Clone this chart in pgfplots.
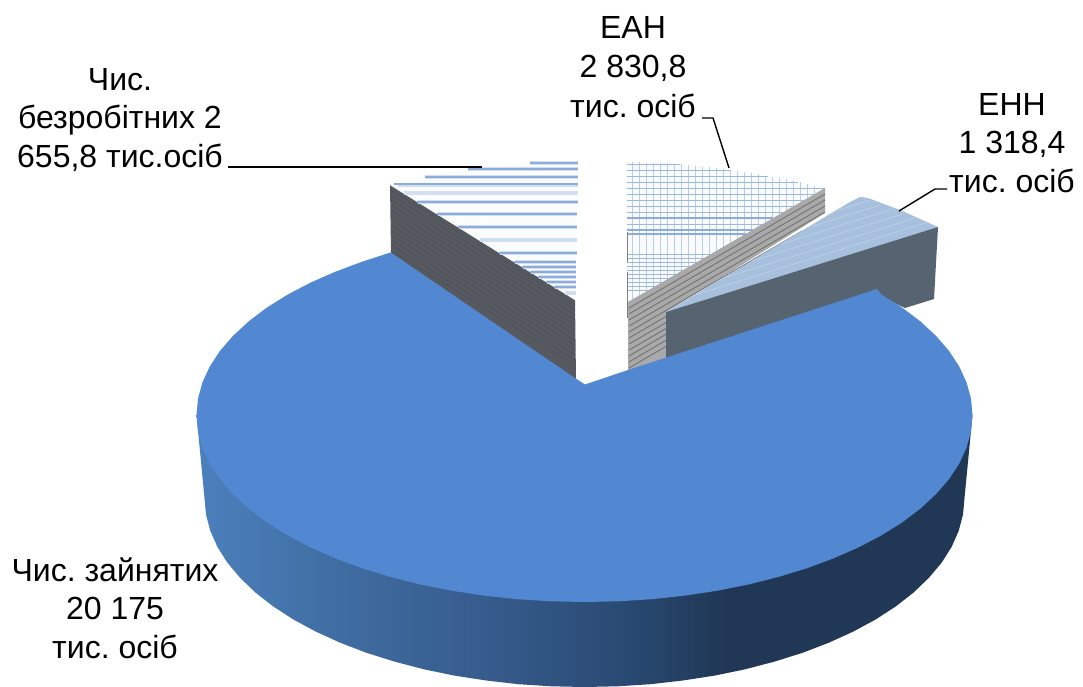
\documentclass[border=0pt]{standalone}
\usepackage{fontspec}
\setmainfont{Liberation Sans}
\usepackage{pgfplots}
\pgfplotsset{compat=1.18}

\definecolor{mainTop}{HTML}{5288D2}
\definecolor{slateWall}{HTML}{566471}
\definecolor{darkWall}{HTML}{565A60}
\definecolor{darkWallLine}{HTML}{4C5056}
\definecolor{greyWall}{HTML}{A9A9A9}
\definecolor{greyWallLine}{HTML}{727272}
\definecolor{hatchPale}{HTML}{D3DFF0}
\definecolor{hatchMid}{HTML}{8CACD9}
\definecolor{hatchGrid}{HTML}{BACEE7}
\definecolor{ennTop}{HTML}{A7C0DE}
\definecolor{ennLine}{HTML}{BDD0E6}
\definecolor{rimA}{HTML}{4C80BD}
\definecolor{rimB}{HTML}{406EA3}
\definecolor{rimC}{HTML}{355A8A}
\definecolor{rimD}{HTML}{294A73}
\definecolor{rimE}{HTML}{203856}

% Rim of the large sector: lighter at the left, dark from about two thirds across
\pgfdeclarehorizontalshading{rimshade}{100bp}{
  color(0bp)=(rimA);
  color(25bp)=(rimA);
  color(33.5bp)=(rimB);
  color(44.5bp)=(rimC);
  color(52.5bp)=(rimD);
  color(59bp)=(rimE);
  color(75bp)=(rimE);
  color(100bp)=(rimE)}

\tikzset{lab/.style={font=\fontsize{32}{38.5}\selectfont\frenchspacing, align=center, text=black, inner sep=0pt}}

\begin{document}
\begin{tikzpicture}
\begin{axis}[
  hide axis, scale only axis, width=1083pt, height=687pt,
  xmin=0, xmax=1083, ymin=0, ymax=687, y dir=reverse,
  clip=false, unbounded coords=jump,
  every axis plot/.append style={line join=round},
]
% canvas
\addplot[fill=white, draw=none] coordinates {(0,0)(1083,0)(1083,687)(0,687)} --cycle;

% --- sector: unemployed ---
\addplot[fill=darkWall, draw=none] coordinates {(390,185)(575,300)(576,380)(391,253)} --cycle;
\addplot[darkWallLine, line width=0.5pt] coordinates {
(391,190)(575,305)(nan,nan)(391,195)(575,310)(nan,nan)(391,200)(575,315)(nan,nan)
(391,205)(575,320)(nan,nan)(391,210)(575,325)(nan,nan)(391,215)(575,330)(nan,nan)
(391,220)(575,335)(nan,nan)(391,225)(575,340)(nan,nan)(391,230)(575,345)(nan,nan)
(391,235)(575,350)(nan,nan)(391,240)(575,355)(nan,nan)(391,245)(575,360)(nan,nan)
(391,250)(575,365)};
\addplot[fill=white!90!hatchPale, draw=none] coordinates {(390,185)(425,177)(462,170)(518,164)(578,161)(575,300)} --cycle;
\addplot[hatchPale, line width=4pt] coordinates {
(530,163.5)(578,163.5)(nan,nan)(468,169.5)(578,169.5)(nan,nan)(425,177)(578,177)(nan,nan)
(398,184.5)(578,184.5)(nan,nan)(404,193)(577.5,193)(nan,nan)(418,202)(577.5,202)(nan,nan)
(437.7,214)(577,214)(nan,nan)(458.6,227)(577,227)(nan,nan)(479.5,240)(576.5,240)(nan,nan)(500.4,253)(576.5,253)(nan,nan)
(514.9,262)(576,262)(nan,nan)(522.9,267)(576,267)(nan,nan)(531,272)(576,272)(nan,nan)
(539,277)(576,277)(nan,nan)(547,282)(575.5,282)(nan,nan)(555,287)(575.5,287)(nan,nan)(564.8,293)(575.5,293)};
\addplot[hatchMid, line width=1.1pt] coordinates {
(530,163)(578,163)(nan,nan)(468,169)(578,169)(nan,nan)(425,177)(578,177)(nan,nan)
(394,184)(578,184)(nan,nan)(417.4,202)(577.5,202)(nan,nan)
(436.7,214)(577,214)(nan,nan)(457.6,227)(577,227)(nan,nan)(499.4,253)(576.5,253)(nan,nan)
(513.9,262)(576,262)(nan,nan)(521.9,267)(576,267)(nan,nan)(530,272)(576,272)(nan,nan)
(538,277)(576,277)(nan,nan)(546,282)(575.5,282)(nan,nan)(554,287)(575.5,287)};

% --- sector: EAN ---
\addplot[fill=white!88!hatchPale, draw=none] coordinates {(626,162)(680,164)(730,170)(780,178)(825,188)(629,302)(627,302)} --cycle;
\addplot[hatchGrid, line width=1pt] coordinates {
(632,162.2)(632,300.3)(nan,nan)(639,162.5)(639,296.2)(nan,nan)(646,162.7)(646,292.1)(nan,nan)
(653,163)(653,288)(nan,nan)(660,163.3)(660,284)(nan,nan)(667,163.5)(667,279.9)(nan,nan)
(674,163.7)(674,275.8)(nan,nan)(681,164.1)(681,271.8)(nan,nan)(688,165)(688,267.7)(nan,nan)
(695,165.8)(695,263.6)(nan,nan)(702,166.6)(702,259.5)(nan,nan)(709,167.5)(709,255.5)(nan,nan)
(716,168.3)(716,251.4)(nan,nan)(723,169.2)(723,247.3)(nan,nan)(730,170)(730,243.2)(nan,nan)
(737,171.1)(737,239.2)(nan,nan)(744,172.3)(744,235.1)(nan,nan)(751,173.3)(751,231)(nan,nan)
(758,174.5)(758,227)(nan,nan)(765,175.6)(765,222.9)(nan,nan)(772,176.7)(772,218.8)(nan,nan)
(779,177.8)(779,214.8)(nan,nan)(786,179.3)(786,210.7)(nan,nan)(793,180.9)(793,206.6)(nan,nan)
(800,182.4)(800,202.5)(nan,nan)(807,184)(807,198.5)(nan,nan)(814,185.6)(814,194.4)};
\addplot[hatchMid!85!white, line width=0.8pt] coordinates {
(627,164)(680,164)(nan,nan)(627,170)(730,170)(nan,nan)(627,176)(768,176)(nan,nan)
(627,182)(798,182)(nan,nan)(627,188)(825,188)(nan,nan)(627,194)(814.7,194)(nan,nan)
(627,200)(804.3,200)(nan,nan)(627,206)(794,206)(nan,nan)(627,212)(783.7,212)(nan,nan)
(627,224)(763.1,224)(nan,nan)(627,254)(711.5,254)(nan,nan)(627,258)(704.6,258)(nan,nan)
(627,262)(697.8,262)(nan,nan)(627,266)(690.9,266)(nan,nan)(627,270)(684,270)(nan,nan)
(627,274)(677.1,274)(nan,nan)(627,278)(670.3,278)(nan,nan)(627,282)(663.4,282)(nan,nan)
(627,286)(656.5,286)(nan,nan)(627,290)(649.6,290)};
\addplot[hatchMid, line width=1.1pt] coordinates {
(627,218)(773.4,218)(nan,nan)(627,230)(752.8,230)(nan,nan)(627,234)(745.9,234)};
\addplot[fill=greyWall, draw=none] coordinates {(628,302)(825,188)(825,213)(666,312)(666,365)(628,375)} --cycle;
\addplot[greyWallLine, line width=0.9pt] coordinates {
(629,308)(825,194)(nan,nan)(629,314)(825,200)(nan,nan)(629,320)(825,206)(nan,nan)
(629,326)(825,212)(nan,nan)(629,332)(802,231)(nan,nan)(629,338)(780,250)(nan,nan)
(629,344)(700,303)(nan,nan)(629,350)(700,309)(nan,nan)(629,356)(680,326)(nan,nan)
(629,362)(680,332)(nan,nan)(629,368)(670,344)};
\addplot[gray, line width=1pt] coordinates {(627,232)(627,262)(nan,nan)(627,272)(627,318)};

% --- sector: ENN ---
\addplot[fill=ennTop, draw=none] coordinates {(666,312)(850,202)(860,197)(868,198)(900,210)(938,227)} --cycle;
\addplot[ennLine, line width=0.7pt] coordinates {
(694.5,295.1)(926.5,222.6)(nan,nan)(723.1,278.2)(915,218.2)(nan,nan)(751.6,261.2)(903.6,213.7)(nan,nan)
(780.2,244.3)(892.1,209.3)(nan,nan)(808.7,227.4)(880.6,204.9)(nan,nan)(837.2,210.5)(869.1,200.5)};
\addplot[fill=slateWall, draw=none] coordinates {(666,312)(938,227)(934,299)(905,308)(877,295)(666,362)} --cycle;

% --- sector: employed ---
\addplot[draw=none, shade, shading=rimshade] coordinates {
(196.5,415)(204.5,498)(206,514.5)(210.3,530.8)(217.4,546.9)(227.4,562.7)(240.1,577.8)(255.4,592.5)
(273.2,606.4)(293.4,619.5)(315.8,631.6)(340.2,642.7)(366.5,652.8)(394.5,661.6)(423.9,669.3)
(454.5,675.6)(486.2,680.5)(518.5,684.2)(551.4,686.3)(584.5,687)(617.6,686.3)(650.5,684.2)
(682.8,680.5)(714.5,675.6)(745.1,669.3)(774.5,661.6)(802.5,652.8)(828.8,642.7)(853.2,631.6)
(875.6,619.5)(895.8,606.4)(913.6,592.5)(928.9,577.8)(941.6,562.7)(951.6,546.9)(958.7,530.8)
(963,514.5)(964.5,498)(972.5,415)} --cycle;
\addplot[fill=mainTop, draw=none] coordinates {
(575,378)(585,384.5)(628,370)(877,289)(881.7,294.8)(902.3,307.7)(920.5,321.5)(936.1,336)(949.1,351)
(959.3,366.6)(966.6,382.5)(971,398.7)(972.5,415)(971,431.3)(966.6,447.5)(959.3,463.4)(949.1,479)
(936.1,494)(920.5,508.5)(902.3,522.3)(881.7,535.2)(858.9,547.2)(833.9,558.2)(807.1,568.2)
(778.5,576.9)(748.5,584.5)(717.2,590.7)(684.9,595.6)(651.9,599.2)(618.3,601.3)(584.5,602)
(550.7,601.3)(517.1,599.2)(484.1,595.6)(451.8,590.7)(420.5,584.5)(390.5,576.9)(361.9,568.2)
(335.1,558.2)(310.1,547.2)(287.3,535.2)(266.7,522.3)(248.5,508.5)(232.9,494)(219.9,479)
(209.7,463.4)(202.4,447.5)(198,431.3)(196.5,415)(198,398.7)(202.4,382.5)(209.7,366.6)(219.9,351)
(232.9,336)(248.5,321.5)(266.7,307.7)(287.3,294.8)(310.1,282.8)(335.1,271.8)(361.9,261.8)(390.5,252.5)
} --cycle;

% leader lines
\addplot[black, line width=1.4pt] coordinates {(228,167)(482,167)};
\addplot[black, line width=1.4pt] coordinates {(702,118)(713,118)(729,168)};
\addplot[black, line width=1.4pt] coordinates {(947,189)(935,189)(899,211)};

% labels
\node[lab] at (axis cs:633,67) {ЕАН\\[1pt]2 830,8\\[1pt]тис. осіб};
\node[lab] at (axis cs:1012,143) {ЕНН\\1 318,4\\тис. осіб};
\node[lab] at (axis cs:120,120) {Чис.\\безробітних 2\\655,8 тис.осіб};
\node[lab] at (axis cs:115,608) {Чис. зайнятих\\20 175\\тис. осіб};
\end{axis}
\end{tikzpicture}
\end{document}
